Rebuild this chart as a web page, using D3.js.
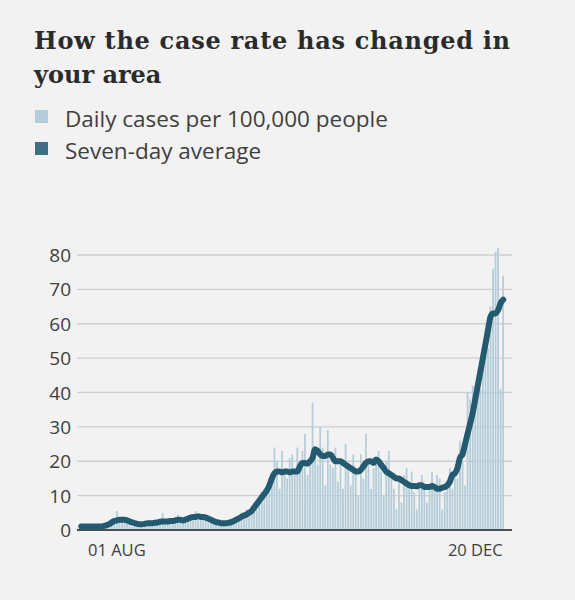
<!DOCTYPE html>
<html>
<head>
<meta charset="utf-8">
<script src="https://cdn.jsdelivr.net/npm/d3@7"></script>
<style>
  body { margin: 0; background: #f2f2f2; font-family: "Open Sans", "Noto Sans", sans-serif; }
</style>
</head>
<body>
<div id="chart"></div>
<script>
// first day of the series
var startDate = new Date(2020, 6, 18);

// daily cases per 100,000, 18 Jul - 1 Jan
var daily = [
    0.5, 1, 0.5, 1, 0.8, 1, 0.7, 1, 1.2, 1.5, 1, 2, 3, 2.5,
    5.5, 3, 2.5, 3, 2, 3, 1, 2, 1.5, 2, 1, 2, 1.5, 2,
    2, 3, 2.5, 2, 5, 3, 2.5, 3, 3, 2, 4.5, 3, 2.5, 3, 4, 3, 3.5,
    5.5, 3, 4, 4.5, 3, 2.5, 3, 2, 1.5, 2.5, 1.5, 2, 2.5, 1.5,
    2, 3, 2.5, 4, 5, 4.5, 6, 4, 7, 8, 6, 9, 10, 12, 11, 15,
    16, 24, 20, 12, 23, 17, 15, 21, 22, 18, 24, 17, 23, 28, 16,
    20, 37, 23, 19, 30, 24, 13, 29, 19, 18, 24, 14, 20, 12, 25, 19,
    13, 22, 17, 10, 22, 15, 28, 20, 12, 18, 20, 23, 17, 10, 20,
    23, 17, 12, 6, 15, 8, 16, 18, 12, 17, 11, 6, 12, 16, 13,
    8, 13, 17, 12, 16, 15, 6, 11, 13, 18, 12, 17, 15, 26,
    20, 13, 40, 38, 42, 40, 45, 41, 48, 58, 53, 65, 76, 81, 82, 41, 74
];

// seven-day average
var average = [
    1, 1, 1, 1, 1, 1, 1, 1, 1, 1.2, 1.4, 1.7, 2.2, 2.6,
    2.8, 3, 3, 3, 2.8, 2.5, 2.2, 2, 1.8, 1.7, 1.7, 1.8, 2, 2,
    2, 2.1, 2.2, 2.4, 2.5, 2.5, 2.5, 2.6, 2.6, 2.8, 3, 3, 2.8, 3, 3.3, 3.6, 3.8,
    3.8, 4, 3.8, 3.8, 3.6, 3.3, 3, 2.6, 2.3, 2.2, 2, 2, 2, 2.1,
    2.3, 2.6, 3, 3.4, 3.8, 4.2, 4.5, 5, 5.5, 6.5, 7.5, 8.5, 9.5, 10.5, 11.5, 13,
    15, 16.5, 17, 17, 16.8, 17, 17, 16.8, 17, 17, 17, 18.5, 19.5, 19.5, 19.3,
    20, 21, 23.5, 23, 22, 21.5, 21.5, 22, 22, 21, 20, 20, 20, 19.5, 19, 18.5,
    18, 17.5, 17, 17, 17.5, 18.5, 19.5, 20, 20, 19.5, 20.5, 20, 19, 18, 17,
    16.5, 16, 15.5, 15, 15, 14.5, 14, 13.5, 13, 12.8, 12.8, 12.7, 13, 13, 12.5,
    12.5, 12.5, 12.8, 12.5, 12, 12, 12.3, 12.5, 13, 14, 16, 16.5, 18, 21,
    22, 25, 28, 31, 34, 38, 42, 46, 50, 54, 58, 62, 63, 63, 64, 66, 67
];

var yTicks = [0, 10, 20, 30, 40, 50, 60, 70, 80];
var xTickDates = [new Date(2020, 7, 1), new Date(2020, 11, 20)];
var xTickLabels = ["01 AUG", "20 DEC"];

var data = daily.map(function(v, i) {
    return { date: d3.timeDay.offset(startDate, i), value: v, avg: average[i] };
});

var width = 575, height = 600;
var svg = d3.select("#chart").append("svg")
    .attr("width", width)
    .attr("height", height);

// title
["How the case rate has changed in", "your area"].forEach(function(t, i) {
    svg.append("text").attr("x", 34).attr("y", 49 + i * 34)
        .style("font-family", "'DejaVu Serif', serif")
        .style("font-size", "24px").style("font-weight", "bold").style("fill", "#2b2b2b")
        .attr("textLength", i === 0 ? 476 : null)
        .text(t);
});

// legend
var legend = [
    { label: "Daily cases per 100,000 people", color: "#b4cdd9" },
    { label: "Seven-day average", color: "#3e6e85" }
];
legend.forEach(function(d, i) {
    svg.append("rect").attr("x", 35).attr("y", 110 + i * 32)
        .attr("width", 13).attr("height", 13).attr("fill", d.color);
    svg.append("text").attr("x", 65).attr("y", 127 + i * 32)
        .style("font-size", "22.5px").style("fill", "#404040")
        .text(d.label);
});

var x = d3.scaleTime()
    .domain([new Date(2020, 6, 17, 12), new Date(2021, 0, 1, 12)])
    .range([80, 507]);

var y = d3.scaleLinear()
    .domain([0, 80])
    .range([530, 255]);

// gridlines + y labels
svg.append("g").selectAll("line")
    .data(yTicks).enter().append("line")
    .attr("x1", 77).attr("x2", 512)
    .attr("y1", function(d) { return y(d); })
    .attr("y2", function(d) { return y(d); })
    .attr("stroke", "#cfcfcf").attr("stroke-width", 1.3);

svg.append("g").selectAll("text")
    .data(yTicks).enter().append("text")
    .attr("x", 71).attr("y", function(d) { return y(d) + 7; })
    .attr("text-anchor", "end")
    .style("font-size", "19px").style("fill", "#404040")
    .text(function(d) { return d; });

// bars
var dayW = x(new Date(2020, 6, 19)) - x(new Date(2020, 6, 18));
svg.append("g").selectAll("rect")
    .data(data).enter().append("rect")
    .attr("x", function(d) { return x(d.date) - dayW * 0.35; })
    .attr("width", dayW * 0.7)
    .attr("y", function(d) { return y(d.value); })
    .attr("height", function(d) { return y(0) - y(d.value); })
    .attr("fill", "#b4cdd9");

// baseline
svg.append("line").attr("x1", 77).attr("x2", 512)
    .attr("y1", y(0)).attr("y2", y(0))
    .attr("stroke", "#222").attr("stroke-width", 1.5);

// average line
var line = d3.line()
    .x(function(d) { return x(d.date); })
    .y(function(d) { return y(d.avg); })
    .curve(d3.curveMonotoneX);
svg.append("path").datum(data)
    .attr("d", line)
    .attr("fill", "none")
    .attr("stroke", "#235a70")
    .attr("stroke-width", 6)
    .attr("stroke-linejoin", "round")
    .attr("stroke-linecap", "round");

// x labels
svg.append("g").selectAll("text")
    .data(xTickDates).enter().append("text")
    .attr("x", function(d) { return x(d); })
    .attr("y", 556)
    .attr("text-anchor", "middle")
    .style("font-size", "16.5px").style("fill", "#404040")
    .text(function(d, i) { return xTickLabels[i]; });
</script>
</body>
</html>
